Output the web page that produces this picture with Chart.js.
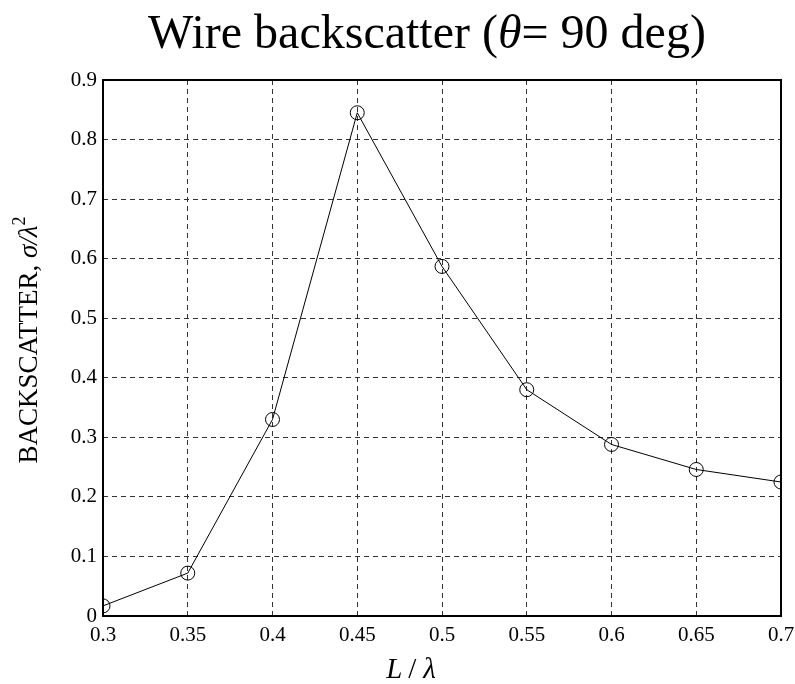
<!DOCTYPE html>
<html>
<head>
<meta charset="utf-8">
<script src="https://cdn.jsdelivr.net/npm/chart.js@4"></script>
<style>
  html, body { margin: 0; padding: 0; background: #fff; }
  #wrap { width: 795px; height: 684px; }
</style>
</head>
<body>
<div id="wrap"><canvas id="backscatterChart"></canvas></div>
<script>
var lengths = [0.3, 0.35, 0.4, 0.45, 0.5, 0.55, 0.6, 0.65, 0.7];
var backscatter = [0.017, 0.072, 0.33, 0.845, 0.587, 0.38, 0.288, 0.246, 0.225];
var xTicks = [0.3, 0.35, 0.4, 0.45, 0.5, 0.55, 0.6, 0.65, 0.7];
var yTicks = [0, 0.1, 0.2, 0.3, 0.4, 0.5, 0.6, 0.7, 0.8, 0.9];

var serif = '"Liberation Serif", "Times New Roman", serif';

// draws mixed upright / italic text segments, centred on x
function drawRuns(ctx, runs, x, y) {
    var total = 0;
    runs.forEach(function (r) {
        ctx.font = r.font;
        total += ctx.measureText(r.text).width + (r.gap || 0);
    });
    var cx = x - total / 2;
    runs.forEach(function (r) {
        ctx.font = r.font;
        ctx.fillText(r.text, cx, y + (r.dy || 0));
        cx += ctx.measureText(r.text).width + (r.gap || 0);
    });
}

var labelsPlugin = {
    id: 'labels',
    afterDraw: function (chart) {
        var ctx = chart.ctx;
        var area = chart.chartArea;
        ctx.save();
        // box around plot
        ctx.strokeStyle = '#000';
        ctx.lineWidth = 2;
        ctx.setLineDash([]);
        ctx.strokeRect(area.left, area.top, area.right - area.left, area.bottom - area.top);

        ctx.fillStyle = '#000';
        ctx.textBaseline = 'alphabetic';
        ctx.textAlign = 'left';

        // title
        drawRuns(ctx, [
            { text: 'Wire backscatter (', font: '48px ' + serif },
            { text: 'θ', font: 'italic 48px ' + serif },
            { text: '= 90 deg)', font: '48px ' + serif }
        ], 427, 48);

        // x label
        drawRuns(ctx, [
            { text: 'L', font: 'italic 29px ' + serif, gap: 6 },
            { text: '/', font: '29px ' + serif, gap: 7 },
            { text: 'λ', font: 'italic 29px ' + serif }
        ], 411, 678);

        // y label
        ctx.translate(37, 340);
        ctx.rotate(-Math.PI / 2);
        drawRuns(ctx, [
            { text: 'BACKSCATTER, ', font: '27px ' + serif },
            { text: 'σ/λ', font: 'italic 27px ' + serif },
            { text: '2', font: '18px ' + serif, dy: -12 }
        ], 0, 0);
        ctx.restore();
    }
};

var ctx = document.getElementById('backscatterChart').getContext('2d');
var backscatterChart = new Chart(ctx, {
    type: 'line',
    data: {
        datasets: [{
            data: lengths.map(function (x, i) { return { x: x, y: backscatter[i] }; }),
            borderColor: '#000',
            borderWidth: 1,
            backgroundColor: 'rgba(0,0,0,0)',
            pointStyle: 'circle',
            pointRadius: 7,
            pointBorderWidth: 1,
            pointBorderColor: '#000',
            pointBackgroundColor: 'rgba(0,0,0,0)',
            tension: 0,
            clip: 0
        }]
    },
    options: {
        responsive: true,
        maintainAspectRatio: false,
        animation: false,
        events: [],
        layout: { padding: { top: 80, right: 14, left: 0, bottom: 0 } },
        plugins: {
            legend: { display: false },
            title: { display: false },
            tooltip: { enabled: false }
        },
        scales: {
            x: {
                type: 'linear',
                min: 0.3,
                max: 0.7,
                afterBuildTicks: function (scale) {
                    scale.ticks = xTicks.map(function (v) { return { value: v }; });
                },
                afterFit: function (scale) {
                    scale.height = 68;
                    scale.paddingLeft = 0;
                    scale.paddingRight = 0;
                },
                ticks: {
                    color: '#000',
                    font: { family: serif, size: 21 },
                    padding: 7,
                    maxRotation: 0,
                    callback: function (v) { return String(+v.toFixed(2)); }
                },
                grid: {
                    color: '#333',
                    lineWidth: 1,
                    drawTicks: false
                },
                border: { display: false, dash: [5, 4] }
            },
            y: {
                min: 0,
                max: 0.9,
                afterBuildTicks: function (scale) {
                    scale.ticks = yTicks.map(function (v) { return { value: v }; });
                },
                afterFit: function (scale) {
                    scale.width = 103;
                    scale.paddingTop = 0;
                    scale.paddingBottom = 0;
                },
                ticks: {
                    color: '#000',
                    font: { family: serif, size: 21 },
                    padding: 6,
                    callback: function (v) { return String(+v.toFixed(1)); }
                },
                grid: {
                    color: '#333',
                    lineWidth: 1,
                    drawTicks: false
                },
                border: { display: false, dash: [5, 4] }
            }
        }
    },
    plugins: [labelsPlugin]
});
</script>
</body>
</html>
